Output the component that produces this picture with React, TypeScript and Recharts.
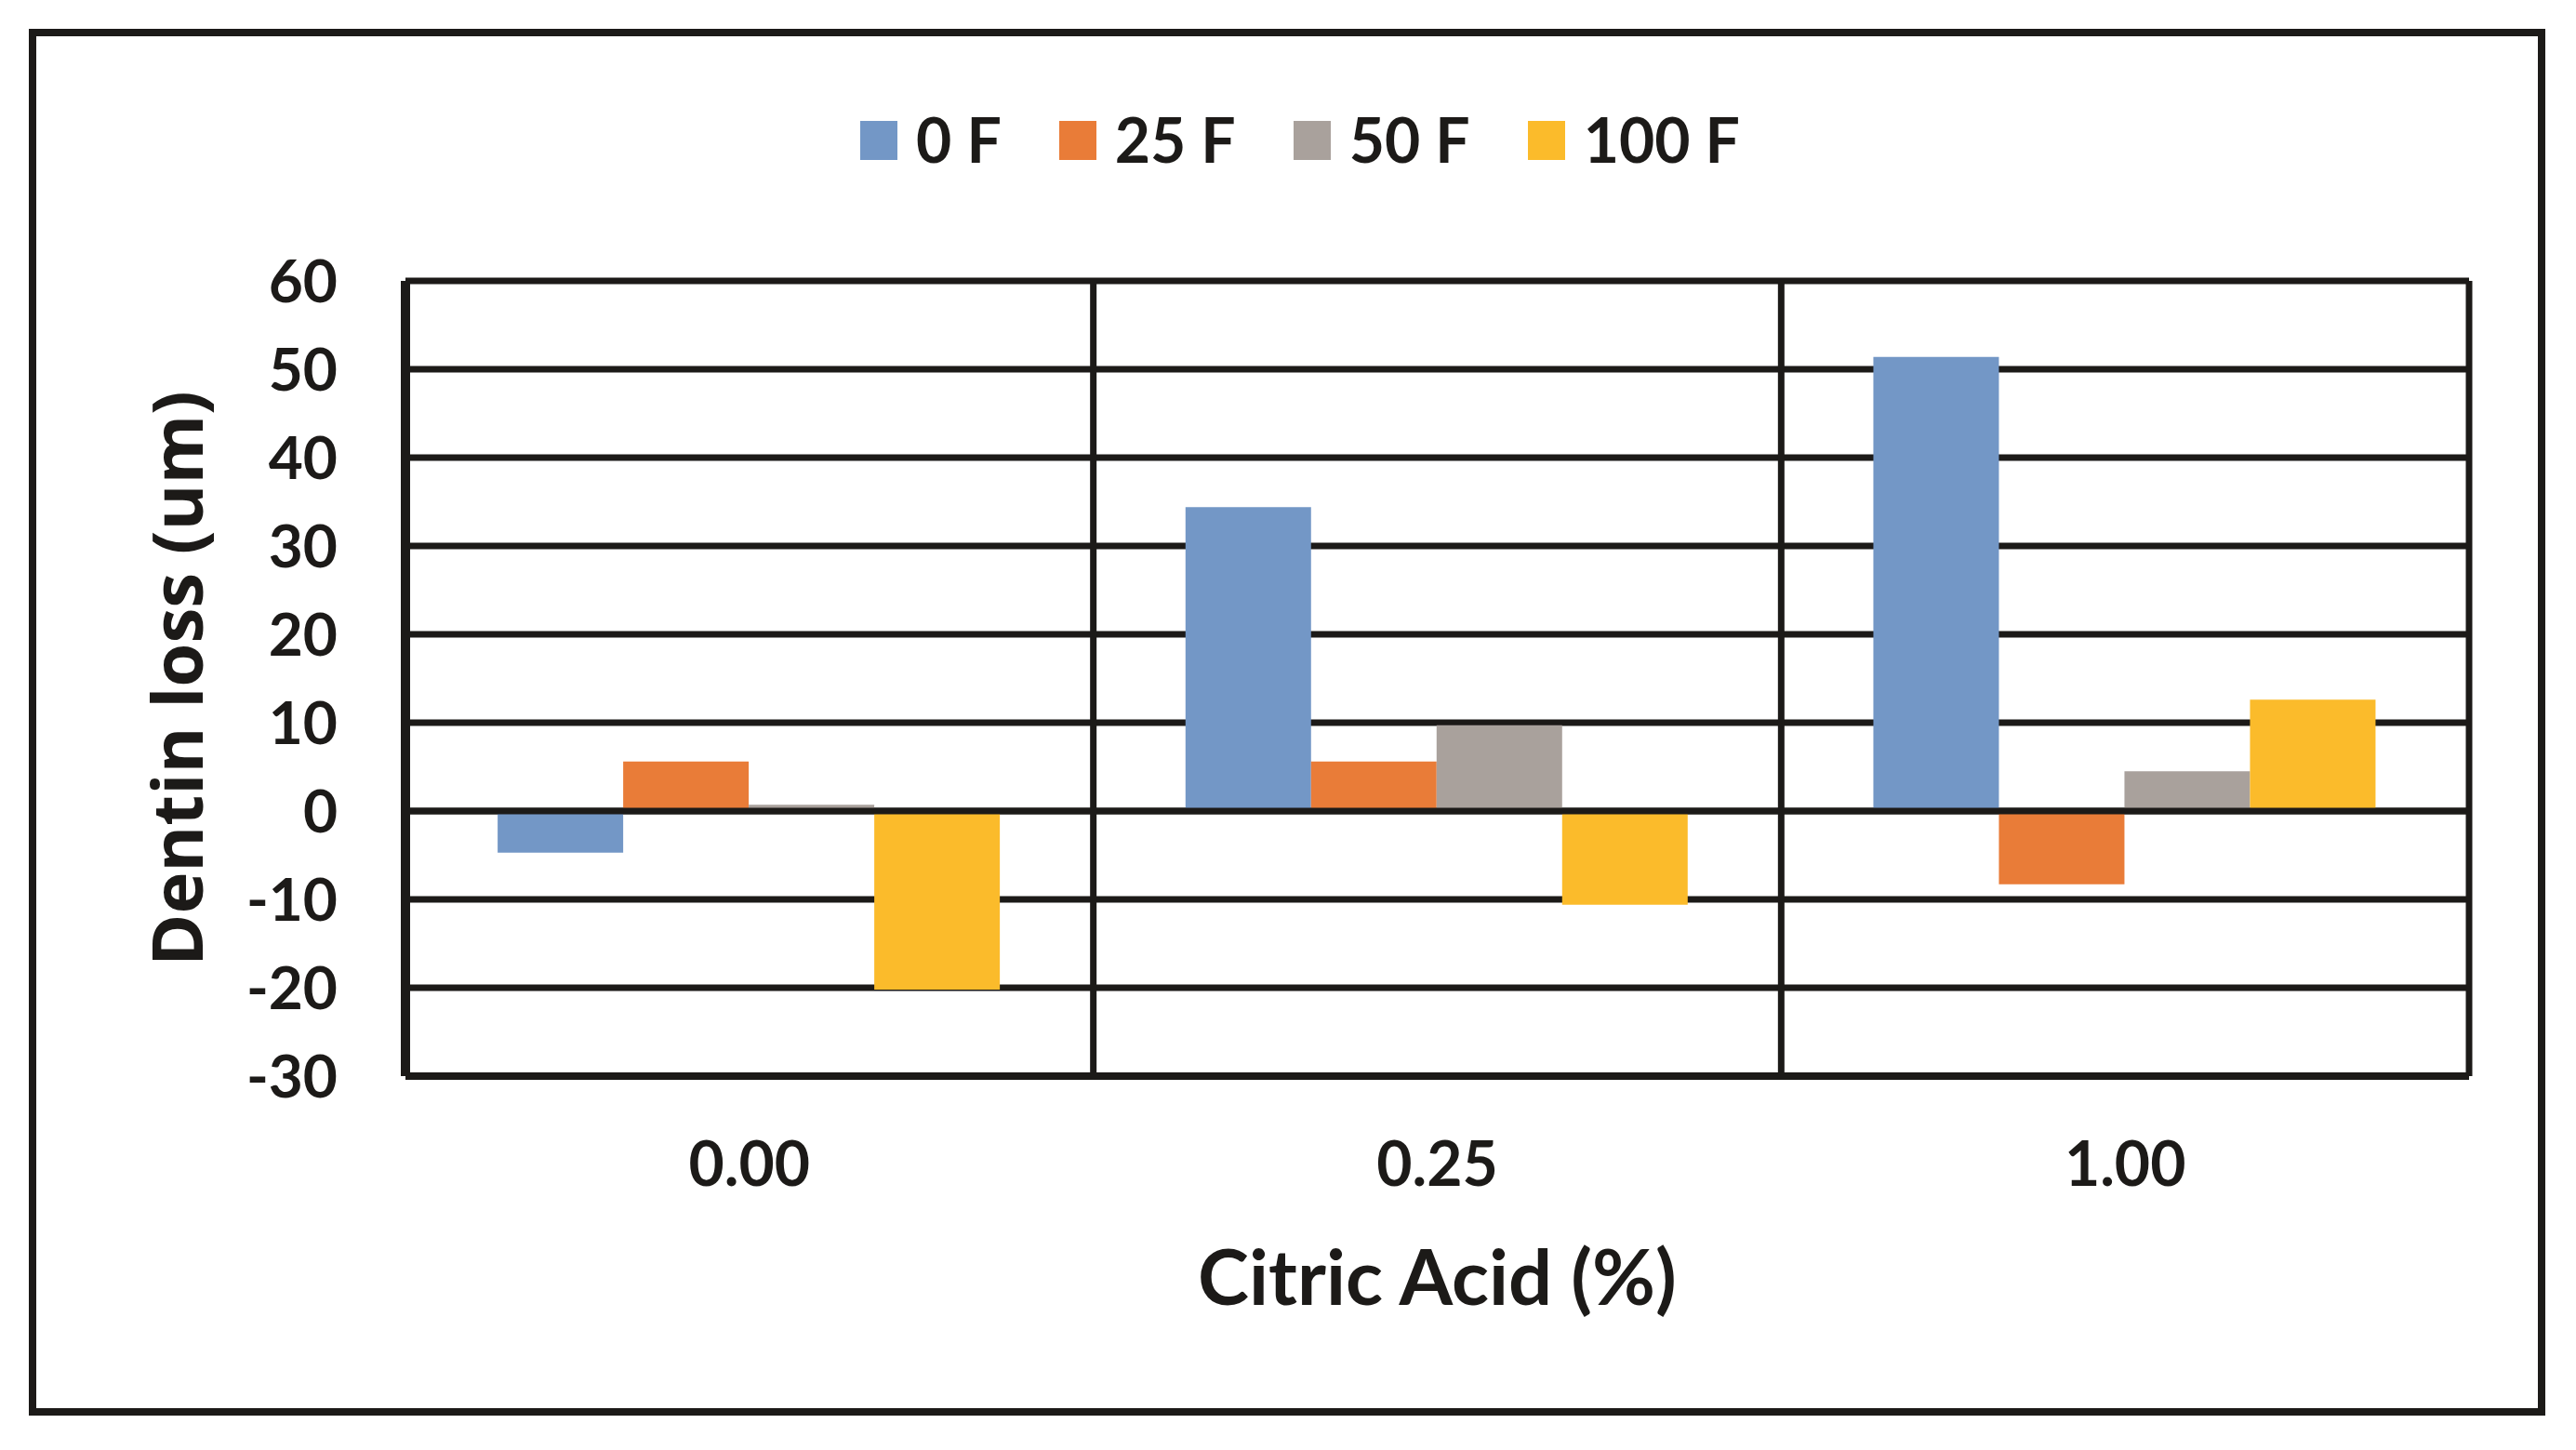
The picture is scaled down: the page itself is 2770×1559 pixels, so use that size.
import {
  BarChart,
  Bar,
  XAxis,
  YAxis,
  CartesianGrid,
  Legend,
  ReferenceLine,
} from "recharts";

const categories = ["0.00", "0.25", "1.00"];
const loss0F = [-4.7, 34.4, 51.4];
const loss25F = [5.6, 5.6, -8.3];
const loss50F = [0.7, 9.7, 4.5];
const loss100F = [-20.2, -10.6, 12.6];
const seriesNames = ["0 F", "25 F", "50 F", "100 F"];
const yTicks = [-30, -20, -10, 0, 10, 20, 30, 40, 50, 60];

const COLORS = ["#7397c6", "#e97c38", "#a9a19c", "#fbbb2b"];
const INK = "#1c1a18";
const FONT = "Lato, 'Open Sans', sans-serif";

const data = categories.map((acid, i) => ({
  acid,
  f0: loss0F[i],
  f25: loss25F[i],
  f50: loss50F[i],
  f100: loss100F[i],
}));
const keys = ["f0", "f25", "f50", "f100"];

// gridlines sit on category boundaries, not on the ticks
const boundaryLines = ({ offset }: any) =>
  categories.map((_, i) => offset.left + (offset.width * i) / categories.length).concat(offset.left + offset.width);

const LegendRow = ({ payload }: any) => {
  // keep series order (recharts sorts legend items by name)
  const items = [...(payload ?? [])].sort(
    (a: any, b: any) => seriesNames.indexOf(a.value) - seriesNames.indexOf(b.value)
  );
  return (
    <div style={{ display: "flex", justifyContent: "center", alignItems: "center", fontFamily: FONT }}>
      {items.map((p: any, i: number) => (
        <div key={p.value} style={{ display: "flex", alignItems: "center", marginLeft: i ? 62 : 0 }}>
          <div style={{ width: 40, height: 42, background: p.color, marginTop: 2 }} />
          <span style={{ marginLeft: 20, fontSize: 66, fontWeight: 700, lineHeight: "66px", color: INK }}>
            {p.value}
          </span>
        </div>
      ))}
    </div>
  );
};

export default function App() {
  return (
    <div style={{ position: "absolute", left: 0, top: 0, width: 2770, height: 1559, background: "#fff" }}>
      <div
        style={{
          position: "absolute",
          left: 31,
          top: 31,
          width: 2706,
          height: 1491,
          border: `8px solid ${INK}`,
          boxSizing: "border-box",
        }}
      />
      <div style={{ position: "absolute", left: 0, top: 0 }}>
        <BarChart
          width={2770}
          height={1559}
          data={data}
          margin={{ top: 302, right: 115, bottom: 102, left: 136 }}
          barCategoryGap="13.4%"
          barGap={0}
        >
          <CartesianGrid
            stroke={INK}
            strokeWidth={7}
            verticalCoordinatesGenerator={boundaryLines}
          />
          <XAxis
            dataKey="acid"
            height={300}
            tickSize={0}
            tickMargin={71}
            tickLine={false}
            axisLine={{ stroke: INK, strokeWidth: 8 }}
            tick={{ fill: INK, fontSize: 66, fontWeight: 700, fontFamily: FONT }}
            label={{
              content: ({ viewBox }: any) => (
                <text
                  x={viewBox.x + viewBox.width / 2}
                  y={viewBox.y + 246}
                  textAnchor="middle"
                  fill={INK}
                  fontSize={83}
                  fontWeight={700}
                  fontFamily={FONT}
                >
                  Citric Acid (%)
                </text>
              ),
            }}
          />
          <YAxis
            width={300}
            domain={[-30, 60]}
            ticks={yTicks}
            interval={0}
            tickSize={0}
            tickMargin={73}
            tickLine={false}
            axisLine={{ stroke: INK, strokeWidth: 10 }}
            tick={{ fill: INK, fontSize: 64, fontWeight: 700, fontFamily: FONT }}
            label={{
              content: ({ viewBox }: any) => {
                const x = viewBox.x + 82;
                const y = viewBox.y + viewBox.height / 2;
                return (
                  <text
                    x={x}
                    y={y}
                    transform={`rotate(-90 ${x} ${y})`}
                    textAnchor="middle"
                    fill={INK}
                    fontSize={76}
                    fontWeight={700}
                    fontFamily="'Open Sans', 'DejaVu Sans', sans-serif"
                  >
                    Dentin loss (um)
                  </text>
                );
              },
            }}
          />
          <Legend
            layout="horizontal"
            verticalAlign="middle"
            align="center"
            content={<LegendRow />}
            wrapperStyle={{ top: 117, left: 13, width: 2770 }}
          />
          {keys.map((k, i) => (
            <Bar key={k} dataKey={k} name={seriesNames[i]} fill={COLORS[i]} isAnimationActive={false} />
          ))}
          <ReferenceLine y={0} stroke={INK} strokeWidth={7} />
        </BarChart>
      </div>
    </div>
  );
}
